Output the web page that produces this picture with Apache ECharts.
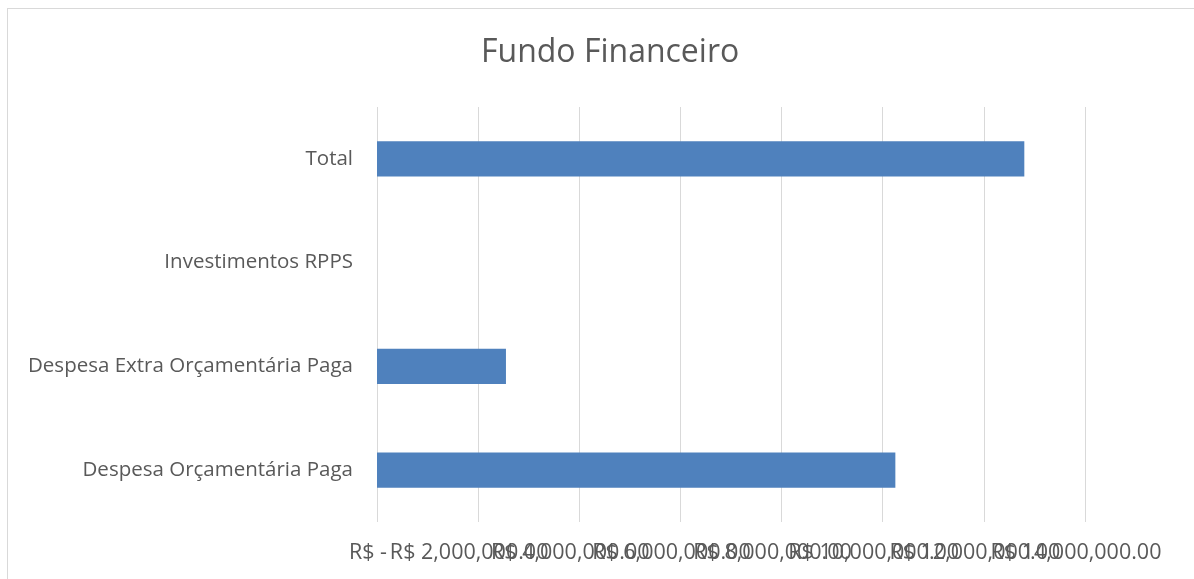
<!DOCTYPE html>
<html>
<head>
<meta charset="utf-8">
<script src="https://cdn.jsdelivr.net/npm/echarts@6/dist/echarts.min.js"></script>
<style>
  html, body { margin: 0; padding: 0; background: #fff; }
  #frame { position: absolute; left: 7px; top: 8px; width: 1200px; height: 600px; border: 1px solid #d9d9d9; box-sizing: border-box; }
  #main { position: absolute; left: 0; top: 0; width: 1194px; height: 579px; }
</style>
</head>
<body>
<div id="frame"></div>
<div id="main"></div>
<script>
// categorias (de baixo para cima)
var categories = ['Despesa Orçamentária Paga', 'Despesa Extra Orçamentária Paga', 'Investimentos RPPS', 'Total'];
var values = [10250000, 2550000, 0, 12800000];
var tickMin = 0;
var tickMax = 14000000;
var tickStep = 2000000;

var chart = echarts.init(document.getElementById('main'));

function fmtMoney(v) {
  if (v === 0) return 'R$ -';
  return 'R$ ' + v.toLocaleString('en-US', { minimumFractionDigits: 2, maximumFractionDigits: 2 });
}

// os rótulos do eixo se sobrepõem (como no Excel); dois eixos iguais,
// um com os ticks pares e outro com os ímpares, para que o ECharts não esconda nenhum
function labelAxis(parity, showGrid) {
  return {
    type: 'value',
    gridIndex: 0,
    position: 'bottom',
    min: tickMin,
    max: tickMax,
    interval: tickStep,
    axisLine: { show: false },
    axisTick: { show: false },
    splitLine: { show: showGrid, lineStyle: { color: '#d9d9d9', width: 1 } },
    axisLabel: {
      margin: 20,
      color: '#595959',
      fontFamily: 'Open Sans',
      fontSize: 21.5,
      padding: [0, 18, 0, 0],
      formatter: function (v) {
        var i = Math.round((v - tickMin) / tickStep);
        return i % 2 === parity ? fmtMoney(v) : '';
      }
    }
  };
}

var option = {
  animation: false,
  title: {
    text: 'Fundo Financeiro',
    left: 476,
    top: 32,
    textStyle: {
      fontFamily: 'Open Sans',
      fontSize: 32,
      fontWeight: 'normal',
      color: '#595959'
    }
  },
  color: ['#4f81bd'],
  grid: {
    left: 377,
    right: 109,
    top: 107,
    bottom: 57,
    containLabel: false
  },
  xAxis: [labelAxis(0, true), labelAxis(1, false)],
  yAxis: {
    type: 'category',
    data: categories,
    axisTick: { show: false },
    axisLine: { show: false },
    axisLabel: {
      margin: 24,
      color: '#595959',
      fontFamily: 'Open Sans',
      fontSize: 20.5,
      padding: [3, 0, 0, 0]
    }
  },
  series: [{
    name: 'Fundo Financeiro',
    type: 'bar',
    xAxisIndex: 0,
    data: values,
    barWidth: '34%',
    itemStyle: { color: '#4f81bd' }
  }]
};
chart.setOption(option);
</script>
</body>
</html>
